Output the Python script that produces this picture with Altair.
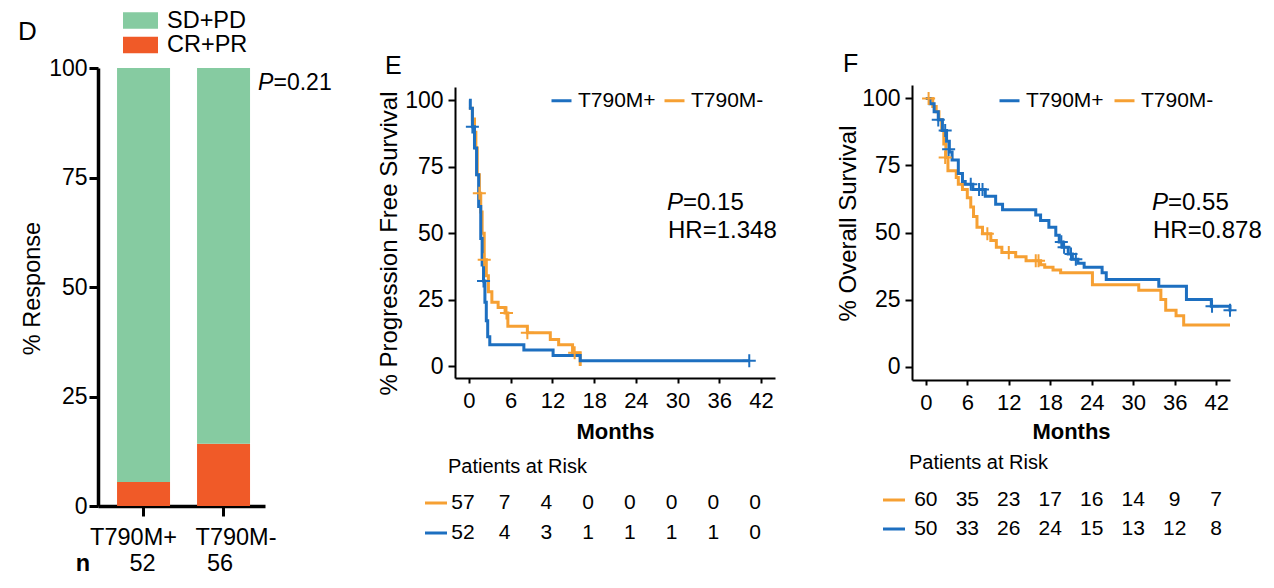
import altair as alt
import pandas as pd

FONT = "Liberation Sans"
BLUE = "#1d6fc0"
ORANGE = "#f6a033"
GREEN = "#86cba1"
RED = "#f05a28"
CROSS = "M-1,0H1M0,-1V1"

# ---------------- Panel D data ----------------
d_groups = ["T790M+", "T790M-"]
d_counts = [52, 56]
d_crpr = [5.5, 14.2]
d_sdpd = [94.5, 85.8]
d_pvalue = "0.21"

# ---------------- KM common ----------------
km_groups = ["T790M+", "T790M-"]
month_ticks = [0, 6, 12, 18, 24, 30, 36, 42]

# ---------------- Panel E (PFS) ----------------
pfs_pos_t = [0, 0.2, 0.5, 0.8, 1.1, 1.4, 1.7, 1.9, 2.1, 2.3, 2.5, 2.7, 3.0, 7.9, 12.1, 16.0, 40.3]
pfs_pos_s = [100, 97, 90, 82, 72, 60, 48, 38, 32, 24, 17, 11, 8, 6, 4, 2, 2]
pfs_pos_ct = [0.5, 2.1, 40.3]
pfs_pos_cs = [90, 32, 2]
pfs_neg_t = [0, 0.5, 0.8, 1.0, 1.2, 1.5, 1.7, 1.9, 2.2, 2.5, 2.8, 3.3, 4.2, 5.2, 5.6, 8.4, 11.7, 12.9, 14.9, 16.0]
pfs_neg_s = [97, 93, 88, 82, 72, 65, 58, 50, 40, 34, 28, 24, 22, 20, 15, 12.5, 10, 8, 5, 0]
pfs_neg_ct = [1.5, 2.2, 5.4, 8.4, 15.2]
pfs_neg_cs = [65, 40, 20, 12.5, 5]
pfs_risk_neg = [57, 7, 4, 0, 0, 0, 0, 0]
pfs_risk_pos = [52, 4, 3, 1, 1, 1, 1, 0]
pfs_p, pfs_hr = "0.15", "1.348"

# ---------------- Panel F (OS) ----------------
os_pos_t = [0, 0.6, 1.2, 1.8, 2.4, 3.0, 3.4, 3.8, 4.7, 5.3, 5.7, 6.8, 8.6, 10.1, 11.1, 15.9, 16.6,
            17.8, 18.8, 19.3, 19.8, 20.6, 21.2, 22.0, 22.9, 25.5, 26.1, 33.7, 37.7, 41.3, 44.0]
os_pos_s = [100, 98, 95, 92, 88, 84, 80, 77, 72, 69, 68, 66, 63.5, 60.5, 58.5, 56.5, 54.5,
            52, 49, 46.5, 44.5, 42, 40, 38.5, 37, 35, 32.5, 30, 25, 22.5, 20.5]
os_pos_ct = [1.8, 2.8, 3.3, 6.5, 7.7, 8.2, 19.6, 20.0, 21.0, 21.7, 41.4, 44.0]
os_pos_cs = [92, 88, 81, 68, 66, 66, 46.5, 44.5, 42, 40, 22.5, 21]
os_neg_t = [0, 1.0, 1.5, 1.9, 2.3, 2.6, 2.9, 3.2, 4.4, 4.7, 5.3, 6.0, 6.5, 6.9, 7.4, 8.2, 9.4, 10.2,
            11.0, 13.0, 14.5, 16.6, 17.2, 18.4, 19.5, 24.1, 30.8, 34.0, 34.7, 36.2, 37.3, 44.0]
os_neg_s = [100, 97, 95, 92, 88, 83, 78, 73, 70.5, 68, 66, 63, 59.5, 56, 52, 49.5, 47, 44.5,
            42.5, 41, 39.5, 38, 37, 36, 35, 30.5, 28.5, 25, 21, 19, 15.5, 15.5]
os_neg_ct = [0.4, 2.8, 8.9, 12.0, 15.9, 16.3]
os_neg_cs = [100, 78, 49.5, 42.5, 39.5, 39.5]
os_risk_neg = [60, 35, 23, 17, 16, 14, 9, 7]
os_risk_pos = [50, 33, 26, 24, 15, 13, 12, 8]
os_p, os_hr = "0.55", "0.878"

one = pd.DataFrame({"k": [0]})
NOVIEW = alt.ViewBackground(stroke="transparent", strokeWidth=0, fill="transparent")


def txt(text, x, y, size, align="left", **kw):
    return alt.Chart(pd.DataFrame({"label": [text]})).mark_text(
        font=FONT, fontSize=size, color="black", align=align, baseline="middle", **kw
    ).encode(x=alt.value(x), y=alt.value(y), text="label:N")


def anchor(x1, x2, y):
    return alt.Chart(one).mark_rule(color="white", strokeWidth=0.5, opacity=0).encode(
        x=alt.value(x1), x2=alt.value(x2), y=alt.value(y))


# ---------------- Panel D chart (plot origin shared at the row top) ----------------
d_df = pd.DataFrame({
    "group": d_groups + d_groups,
    "response": ["CR+PR", "CR+PR", "SD+PD", "SD+PD"],
    "pct": d_crpr + d_sdpd,
    "ord": [0, 0, 1, 1],
})
d_x = alt.X("group:N", sort=d_groups,
            scale=alt.Scale(paddingInner=0.3375, paddingOuter=0.2125, align=0.56),
            axis=alt.Axis(title=None, labels=False, tickSize=10, tickWidth=3, tickColor="black",
                          domainWidth=3.5, domainColor="black"))
D_H = 421
bars = alt.Chart(d_df).mark_bar().encode(
    x=d_x,
    y=alt.Y("pct:Q", stack="zero", scale=alt.Scale(domain=[0, 100], nice=False, range=[D_H, -17]),
            axis=alt.Axis(values=[0, 25, 50, 75, 100], title="% Response", titleFontSize=23.5,
                          titleFont=FONT, titleFontWeight="normal", titleColor="black",
                          titleX=-66, titleY=203, titleBaseline="middle", titleAngle=-90,
                          labelFontSize=23, labelFont=FONT, labelColor="black", labelPadding=2,
                          tickSize=9, tickWidth=3, tickColor="black", domainWidth=3.5,
                          domainColor="black", grid=False)),
    color=alt.Color("response:N", scale=alt.Scale(domain=["SD+PD", "CR+PR"], range=[GREEN, RED]),
                    legend=alt.Legend(orient="none", legendX=30, legendY=-77, direction="vertical",
                                      title=None, symbolType="M-1.4,-0.66H1.4V0.66H-1.4Z",
                                      symbolSize=625, symbolStrokeWidth=0, labelFontSize=23.5,
                                      labelFont=FONT, labelColor="black", labelOffset=14,
                                      rowPadding=0.5, padding=0)),
    order=alt.Order("ord:Q"),
)
cnt_layers = []
for g, n, dx in zip(d_groups, d_counts, [-1, -3.5]):
    cnt_layers.append(
        alt.Chart(pd.DataFrame({"group": [g], "n": [n]})).mark_text(
            font=FONT, fontSize=23.5, color="black", baseline="middle", dx=dx).encode(
            x=d_x, y=alt.value(479), text="n:Q"))
xlab_layers = []
for g, dx in zip(d_groups, [-10, 12.5]):
    xlab_layers.append(
        alt.Chart(pd.DataFrame({"group": [g]})).mark_text(
            font=FONT, fontSize=23.5, color="black", baseline="middle", dx=dx).encode(
            x=d_x, y=alt.value(452.5), text="group:N"))
panel_d = alt.layer(
    bars, *cnt_layers, *xlab_layers,
    txt("n", -15, 479, 23.5, align="center", fontWeight="bold"),
    txt("P", 160, -2.5, 23, fontStyle="italic"),
    txt("=" + d_pvalue, 175.5, -2.5, 23),
    txt("D", -80, -53, 26),
    anchor(-90, 252, -77),
).properties(width=167, height=D_H, view=NOVIEW)


# ---------------- KM panel builder ----------------
def km_panel(letter, ytitle, pos, neg, risk_pos, risk_neg, p, hr, w, h, lay):
    cscale = alt.Scale(domain=km_groups, range=[BLUE, ORANGE])
    xs = alt.Scale(domain=[-2, 44], nice=False, zero=False)
    ys = alt.Scale(domain=lay["ydom"], nice=False, zero=False, range=[h, lay["ytop"]])
    xaxis = alt.Axis(values=month_ticks, title="Months", titleFontSize=22, titleFontWeight="bold",
                     titleFont=FONT, titleColor="black", titlePadding=lay["tpad"],
                     labelFontSize=22, labelFont=FONT, labelColor="black", labelPadding=7,
                     tickSize=5, tickWidth=2, tickColor="black", domainWidth=2,
                     domainColor="black", grid=False, labelFlush=False)
    yaxis = alt.Axis(values=[0, 25, 50, 75, 100], title=ytitle, titleFontSize=24,
                     titleFont=FONT, titleFontWeight="normal", titleColor="black",
                     titleX=lay["tx"], titleY=lay["ty"], titleBaseline="middle", titleAngle=-90,
                     labelFontSize=23, labelFont=FONT, labelColor="black", labelPadding=5,
                     tickSize=7, tickWidth=2, tickColor="black", domainWidth=2,
                     domainColor="black", grid=False)
    X = alt.X("t:Q", scale=xs, axis=xaxis)
    Y = alt.Y("s:Q", scale=ys, axis=yaxis)
    leg = alt.Legend(orient="none", legendX=lay["lx"], legendY=lay["ly"], direction="horizontal",
                     title=None, symbolType="stroke", symbolSize=400, symbolStrokeWidth=3,
                     labelFontSize=21, labelFont=FONT, labelColor="black", labelOffset=5,
                     columnPadding=lay["cp"], padding=0)
    layers = []
    for g, (t, s, ct, cs) in [("T790M-", neg), ("T790M+", pos)]:
        df = pd.DataFrame({"t": t, "s": s, "group": g})
        layers.append(alt.Chart(df).mark_line(interpolate="step-after", strokeWidth=3).encode(
            x=X, y=Y, color=alt.Color("group:N", scale=cscale, legend=leg)))
    for (t, s, ct, cs), col in [(neg, ORANGE), (pos, BLUE)]:
        cdf = pd.DataFrame({"t": ct, "s": cs})
        layers.append(alt.Chart(cdf).mark_point(shape=CROSS, size=170, strokeWidth=2, filled=False,
                                                opacity=1).encode(x=X, y=Y, color=alt.value(col)))
    # risk table
    for vals, col, ry in [(risk_neg, ORANGE, lay["r1"]), (risk_pos, BLUE, lay["r2"])]:
        rdf = pd.DataFrame({"t": month_ticks, "n": vals})
        layers.append(alt.Chart(rdf).mark_text(font=FONT, fontSize=21, color="black",
                                               baseline="middle", dx=lay["rdx"]).encode(
            x=X, y=alt.value(ry), text="n:Q"))
        layers.append(alt.Chart(one).mark_rule(color=col, strokeWidth=3).encode(
            x=alt.value(lay["rl1"]), x2=alt.value(lay["rl2"]), y=alt.value(ry)))
    layers += [
        txt("Patients at Risk", lay["ptx"], lay["pty"], 20),
        txt("P", lay["px"], lay["py"], 24, fontStyle="italic"),
        txt("=" + p, lay["px"] + 16, lay["py"], 24),
        txt("HR=" + hr, lay["px"] + 1, lay["py"] + 28, 24),
        txt(letter, lay["lt"], lay["lty"], 25),
        anchor(lay["a1"], lay["a2"], -77),
    ]
    return alt.layer(*layers).properties(width=w, height=h, view=NOVIEW)


panel_e = km_panel(
    "E", "% Progression Free Survival",
    (pfs_pos_t, pfs_pos_s, pfs_pos_ct, pfs_pos_cs),
    (pfs_neg_t, pfs_neg_s, pfs_neg_ct, pfs_neg_cs),
    pfs_risk_pos, pfs_risk_neg, pfs_p, pfs_hr, 320, 293,
    dict(ydom=[-4.5, 105], ytop=2, tx=-66, ty=158, lx=95, ly=4, cp=2, r1=418, r2=448, rdx=-6,
         rl1=-30, rl2=-8, ptx=-7, pty=382, px=212, py=118, lt=-70, lty=-19,
         a1=-105, a2=355, tpad=10),
)
panel_f = km_panel(
    "F", "% Overall Survival",
    (os_pos_t, os_pos_s, os_pos_ct, os_pos_cs),
    (os_neg_t, os_neg_s, os_neg_ct, os_neg_cs),
    os_risk_pos, os_risk_neg, os_p, os_hr, 318, 295,
    dict(ydom=[-5, 105], ytop=0, tx=-64, ty=138, lx=86, ly=4, cp=4, r1=415, r2=444, rdx=0,
         rl1=-29, rl2=-7, ptx=-3, pty=378, px=240, py=118, lt=-69, lty=-21,
         a1=-102, a2=340, tpad=8),
)

chart = alt.hconcat(panel_d, panel_e, panel_f, spacing=0).resolve_scale(
    color="independent").resolve_legend(color="independent").properties(
    padding={"left": 0, "top": 0, "right": 0, "bottom": 0}
).configure_view(stroke="transparent", strokeWidth=0).configure(
    font=FONT, background="white")

chart.save("out.html", embed_options={"renderer": "svg", "actions": False})
